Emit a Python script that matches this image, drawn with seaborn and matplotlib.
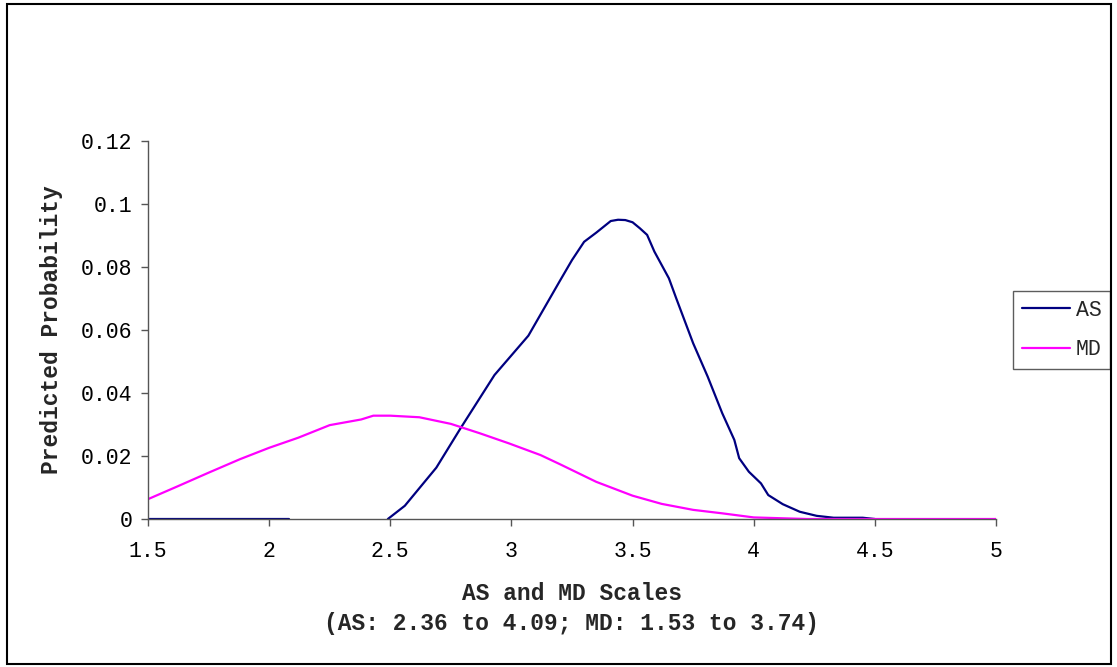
import pandas as pd
import seaborn as sns
import matplotlib.pyplot as plt
from matplotlib.patches import Rectangle

# AS curve: a flat stretch at zero, a gap, then the main hump
as_low_x = [1.5, 1.8, 2.08]
as_low_y = [0.0, 0.0, 0.0]
as_x = [2.49, 2.56, 2.69, 2.79, 2.93, 3.07, 3.20, 3.25, 3.30, 3.35, 3.41, 3.44,
        3.47, 3.50, 3.53, 3.56, 3.59, 3.65, 3.68, 3.75, 3.81, 3.87, 3.92, 3.94,
        3.98, 4.03, 4.06, 4.12, 4.19, 4.26, 4.33, 4.45, 4.50]
as_y = [0.0, 0.0042, 0.0163, 0.0288, 0.0457, 0.0582, 0.0756, 0.0822, 0.0880,
        0.0909, 0.0946, 0.0950, 0.0949, 0.0942, 0.0923, 0.0902, 0.0849, 0.0764,
        0.0701, 0.0558, 0.0452, 0.0336, 0.0251, 0.0193, 0.0150, 0.0113, 0.0076,
        0.0047, 0.0023, 0.0010, 0.0004, 0.0004, 0.0]

md_x = [1.5, 1.62, 1.75, 1.88, 2.0, 2.12, 2.25, 2.38, 2.43, 2.50, 2.62, 2.75,
        2.87, 2.99, 3.12, 3.20, 3.35, 3.50, 3.62, 3.75, 3.87, 4.0, 4.22, 5.0]
md_y = [0.0063, 0.0103, 0.0147, 0.0190, 0.0226, 0.0258, 0.0298, 0.0316, 0.0328,
        0.0328, 0.0323, 0.0302, 0.0272, 0.0240, 0.0203, 0.0174, 0.0118, 0.0074,
        0.0048, 0.0029, 0.0018, 0.0005, 0.0, 0.0]

x_ticks = [1.5, 2, 2.5, 3, 3.5, 4, 4.5, 5]
y_ticks = [0, 0.02, 0.04, 0.06, 0.08, 0.1, 0.12]
y_tick_labels = ["0", "0.02", "0.04", "0.06", "0.08", "0.1", "0.12"]

df = pd.concat([
    pd.DataFrame({"x": as_low_x, "y": as_low_y, "series": "AS", "seg": 0}),
    pd.DataFrame({"x": as_x, "y": as_y, "series": "AS", "seg": 1}),
    pd.DataFrame({"x": md_x, "y": md_y, "series": "MD", "seg": 2}),
], ignore_index=True)

sns.set_style("white")
plt.rcParams["font.family"] = ["Liberation Mono", "DejaVu Sans Mono"]

fig = plt.figure(figsize=(11.17, 6.67), dpi=100)
ax = fig.add_axes([148 / 1117, 1 - 519 / 667, (996 - 148) / 1117, (519 - 141) / 667])

sns.lineplot(data=df, x="x", y="y", hue="series", units="seg", estimator=None,
             palette={"AS": "#000080", "MD": "#FF00FF"}, linewidth=1.6,
             sort=False, ax=ax)

ax.set_xlim(1.5, 5)
ax.set_ylim(0, 0.12)
ax.set_xticks(x_ticks)
ax.set_xticklabels([f"{t:g}" for t in x_ticks])
ax.set_yticks(y_ticks)
ax.set_yticklabels(y_tick_labels)
ax.tick_params(axis="both", direction="out", length=5, width=1, color="#555555",
               labelsize=15.5, labelcolor="black", bottom=True, left=True)
ax.tick_params(axis="x", pad=11)
ax.tick_params(axis="y", pad=6)
for side in ["top", "right"]:
    ax.spines[side].set_visible(False)
for side in ["left", "bottom"]:
    ax.spines[side].set_color("#555555")
    ax.spines[side].set_linewidth(1)

ax.set_xlabel("AS and MD Scales\n(AS: 2.36 to 4.09; MD: 1.53 to 3.74)",
              fontsize=16.5, fontweight="bold", labelpad=14, linespacing=1.42)
ax.set_ylabel("Predicted Probability", fontsize=16.5, fontweight="bold", labelpad=13)

handles, labels = ax.get_legend_handles_labels()
leg = ax.legend(handles, labels, loc="center left", bbox_to_anchor=(1013 / 1117, 1 - 330 / 667),
                bbox_transform=fig.transFigure, frameon=True, fancybox=False,
                fontsize=15.5, handlelength=2.25, handletextpad=0.28, borderpad=0.4,
                labelspacing=0.85, borderaxespad=0)
leg.get_frame().set_edgecolor("#333333")
leg.get_frame().set_linewidth(1)

fig.add_artist(Rectangle((7 / 1117, 3 / 667), 1104 / 1117, 660 / 667, transform=fig.transFigure,
                         fill=False, edgecolor="black", linewidth=1.5))

fig.savefig("out.png", dpi=100)
